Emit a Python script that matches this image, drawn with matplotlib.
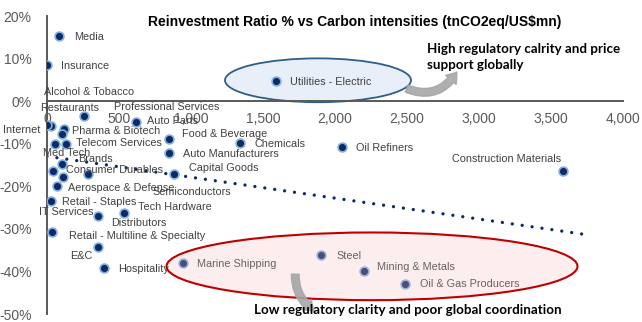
import numpy as np
import matplotlib
matplotlib.use("Agg")
import matplotlib.pyplot as plt
from matplotlib.patches import Ellipse, FancyArrowPatch
from matplotlib.ticker import FuncFormatter, FixedLocator

plt.rcParams['font.family'] = ['Liberation Sans', 'DejaVu Sans']

# Sector data: carbon intensity (tnCO2eq/US$mn) and reinvestment ratio (%)
sectors = [
    "Media", "Insurance", "Alcohol & Tobacco", "Restaurants", "Internet",
    "Pharma & Biotech", "Professional Services", "Auto Parts", "Food & Beverage",
    "Auto Manufacturers", "Telecom Services", "Med Tech", "Brands",
    "Consumer Durables", "Semiconductors", "Capital Goods", "Aerospace & Defense",
    "Retail - Staples", "IT Services", "Tech Hardware", "Distributors",
    "Retail - Multiline & Specialty", "E&C", "Hospitality", "Marine Shipping",
    "Utilities - Electric", "Chemicals", "Oil Refiners", "Construction Materials",
    "Steel", "Mining & Metals", "Oil & Gas Producers",
]
carbon_intensity = [
    83, 3, 257, 28, 3,
    118, 104, 618, 847,
    847, 132, 56, 104,
    42, 285, 882, 69,
    28, 354, 535, 111,
    35, 354, 396, 944,
    1590, 1340, 2049, 3583,
    1903, 2201, 2486,
]
reinvestment_ratio = [
    15.4, 8.4, -3.5, -5.8, -5.6,
    -6.5, -7.7, -4.9, -8.9,
    -12.1, -10.0, -10.0, -14.7,
    -16.4, -17.1, -17.1, -19.9,
    -23.4, -26.9, -26.2, -17.8,
    -30.8, -34.3, -39.3, -38.1,
    4.7, -9.8, -10.7, -16.4,
    -36.2, -40.0, -43.0,
]
x_ticks = [0, 500, 1000, 1500, 2000, 2500, 3000, 3500, 4000]
y_ticks = [20, 10, 0, -10, -20, -30, -40, -50]
trend_end = 3720

# label placement (pixel offsets from each marker)
label_offsets = {
    "Media": (15, -1), "Insurance": (14, -1), "Alcohol & Tobacco": (-40, 24),
    "Restaurants": (-11, 18), "Internet": (-44, -5), "Pharma & Biotech": (8, -2),
    "Professional Services": (52, 27), "Auto Parts": (11, 1),
    "Food & Beverage": (13, 5), "Auto Manufacturers": (14, -1),
    "Telecom Services": (10, 1), "Med Tech": (-12, -9), "Brands": (16, 5),
    "Consumer Durables": (13, 1), "Semiconductors": (64, -18),
    "Capital Goods": (15, 6), "Aerospace & Defense": (11, -2),
    "Retail - Staples": (11, -1), "IT Services": (-59, 4),
    "Tech Hardware": (14, 6), "Distributors": (48, -46),
    "Retail - Multiline & Specialty": (17, -4), "E&C": (-28, -9),
    "Hospitality": (14, -1), "Marine Shipping": (14, -1),
    "Utilities - Electric": (14, -1), "Chemicals": (15, -1),
    "Oil Refiners": (14, -1), "Construction Materials": (-111, 12),
    "Steel": (15, -1), "Mining & Metals": (13, 4), "Oil & Gas Producers": (15, 0),
}

navy = "#0d2a66"
fig = plt.figure(figsize=(6.42, 3.22), dpi=100)
ax = fig.add_axes([47 / 642, 1 - 314 / 322, 576 / 642, 298 / 322])
ax.set_xlim(0, 4000)
ax.set_ylim(-50, 20)

for s in ("top", "right"):
    ax.spines[s].set_visible(False)
ax.spines["left"].set_position(("data", 0))
ax.spines["bottom"].set_position(("data", 0))
for s in ("left", "bottom"):
    ax.spines[s].set_color("#595959")
    ax.spines[s].set_linewidth(1.4)

ax.xaxis.set_major_locator(FixedLocator(x_ticks))
ax.yaxis.set_major_locator(FixedLocator(y_ticks))
ax.xaxis.set_major_formatter(FuncFormatter(lambda v, p: f"{v:,.0f}"))
ax.yaxis.set_major_formatter(FuncFormatter(lambda v, p: f"{v:.0f}%"))
ax.tick_params(axis="x", length=0, pad=8, labelsize=10, labelcolor="#595959")
ax.tick_params(axis="y", length=0, pad=11, labelsize=10, labelcolor="#595959")

# blue highlight ellipse (behind markers)
ax.add_patch(Ellipse((1882, 4.9), 1292, 10.3, facecolor="#e8eff8",
                     edgecolor="#2f5d8c", linewidth=1.3, zorder=1))

# linear trend
xs = np.array(carbon_intensity, dtype=float)
ys = np.array(reinvestment_ratio, dtype=float)
slope, intercept = np.polyfit(xs, ys, 1)
tx = np.array([0, trend_end])
ax.plot(tx, slope * tx + intercept, color=navy, linewidth=2.4,
        linestyle=(0, (0.001, 3.0)), dash_capstyle="round", zorder=2)

ax.scatter(xs, ys, s=40, color=navy, edgecolor="#7fb0e0", linewidth=1.2, zorder=3)

for name, x, y in zip(sectors, carbon_intensity, reinvestment_ratio):
    dx, dy = label_offsets[name]
    ax.annotate(name, (x, y), xytext=(dx, dy), textcoords="offset pixels",
                ha="left", va="center", fontsize=7.8, color="#404040", zorder=4)

# red highlight ellipse over the low-clarity sectors
ax.add_patch(Ellipse((2257, -38.8), 2854, 15.9, facecolor=(0.96, 0.75, 0.75, 0.25),
                     edgecolor="#c00000", linewidth=1.5, zorder=5))

# curved callout arrows
arrow_kw = dict(arrowstyle="simple,head_length=7,head_width=10,tail_width=5.5",
                color="#a6a6a6", alpha=0.9, zorder=6, mutation_scale=1)
ax.add_patch(FancyArrowPatch((2480, 3.2), (2855, 7.4),
                             connectionstyle="arc3,rad=0.45", **arrow_kw))
ax.add_patch(FancyArrowPatch((1725, -40.0), (1870, -49.6),
                             connectionstyle="arc3,rad=0.3", **arrow_kw))

fig.text(355 / 642, 1 - 22 / 322,
         "Reinvestment Ratio % vs Carbon intensities (tnCO2eq/US$mn)",
         ha="center", va="center", fontsize=10, fontweight="bold", color="#000000")
fig.text(427 / 642, 1 - 57 / 322, "High regulatory calrity and price\nsupport globally",
         ha="left", va="center", fontsize=9.6, fontweight="bold", color="#000000",
         family=["Lato", "DejaVu Sans"], linespacing=1.45)
fig.text(408 / 642, 1 - 310 / 322, "Low regulatory clarity and poor global coordination",
         ha="center", va="center", fontsize=9.6, fontweight="bold", color="#000000",
         family=["Lato", "DejaVu Sans"])

fig.savefig("out.png", dpi=100)
